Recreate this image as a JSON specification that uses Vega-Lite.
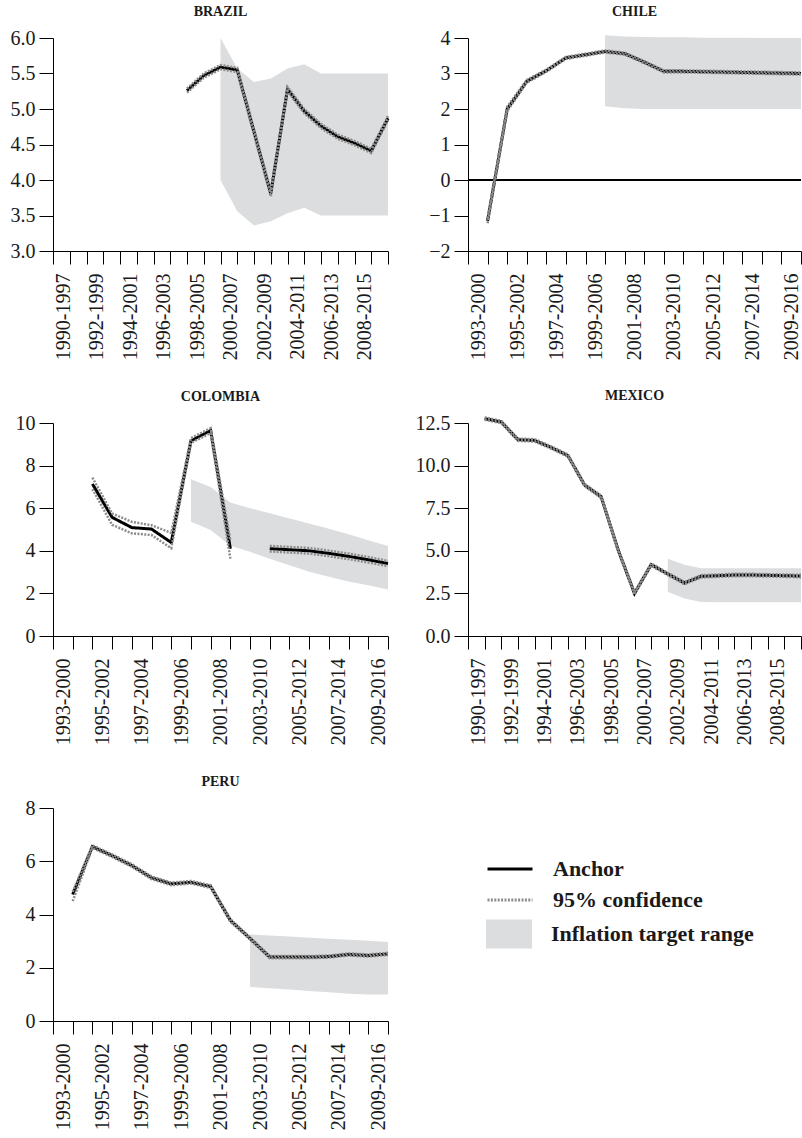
{
  "$schema": "https://vega.github.io/schema/vega-lite/v6.json",
  "padding": {"left": 3, "top": 5, "right": 0, "bottom": 0},
  "columns": 2,
  "bounds": "flush",
  "spacing": {"row": 172, "column": 80},
  "concat": [
    {
      "title": {"text": "BRAZIL"},
      "width": 335, "height": 213,
      "data": {"values": [
        {"w": "1998-2005", "a": 5.26, "lo": 5.23, "hi": 5.29},
        {"w": "1999-2006", "a": 5.47, "lo": 5.44, "hi": 5.5},
        {"w": "2000-2007", "a": 5.59, "lo": 5.56, "hi": 5.62, "tl": 4.0, "th": 6.0},
        {"w": "2001-2008", "a": 5.55, "lo": 5.52, "hi": 5.58, "tl": 3.56, "th": 5.57},
        {"w": "2002-2009", "a": 4.68, "lo": 4.64, "hi": 4.72, "tl": 3.36, "th": 5.38},
        {"w": "2003-2010", "a": 3.81, "lo": 3.77, "hi": 3.85, "tl": 3.42, "th": 5.43},
        {"w": "2004-2011", "a": 5.28, "lo": 5.25, "hi": 5.31, "tl": 3.53, "th": 5.57},
        {"w": "2005-2012", "a": 4.97, "lo": 4.94, "hi": 5.0, "tl": 3.61, "th": 5.63},
        {"w": "2006-2013", "a": 4.76, "lo": 4.73, "hi": 4.79, "tl": 3.5, "th": 5.5},
        {"w": "2007-2014", "a": 4.61, "lo": 4.58, "hi": 4.64, "tl": 3.5, "th": 5.5},
        {"w": "2008-2015", "a": 4.52, "lo": 4.49, "hi": 4.55, "tl": 3.5, "th": 5.5},
        {"w": "2009-2016", "a": 4.41, "lo": 4.38, "hi": 4.44, "tl": 3.5, "th": 5.5},
        {"w": "2010-2017", "a": 4.87, "lo": 4.84, "hi": 4.9, "tl": 3.5, "th": 5.5}
      ]},
      "encoding": {
        "x": {"field": "w", "type": "ordinal", "title": null,
          "scale": {"type": "point", "padding": 0, "domain": ["1990-1997","1991-1998","1992-1999","1993-2000","1994-2001","1995-2002","1996-2003","1997-2004","1998-2005","1999-2006","2000-2007","2001-2008","2002-2009","2003-2010","2004-2011","2005-2012","2006-2013","2007-2014","2008-2015","2009-2016","2010-2017"]},
          "axis": {"labelExpr": "(toNumber(slice(datum.value,0,4)) % 2 == 0 && datum.value != '2010-2017') ? datum.value : ''"}}
      },
      "layer": [
        {"mark": {"type": "area"},
         "encoding": {
           "y": {"field": "th", "type": "quantitative", "title": null, "scale": {"domain": [3, 6], "nice": false, "zero": false}, "axis": {"values": [3, 3.5, 4, 4.5, 5, 5.5, 6], "tickCount": 10, "format": ".1f", "labelOverlap": false}},
           "y2": {"field": "tl"},
           "fill": {"datum": "Inflation target range", "title": null, "scale": {"domain": ["Inflation target range"], "range": ["#dcdddf"]},
             "legend": {"legendY": 881, "symbolType": "M-1,-0.63H1V0.63H-1Z", "symbolSize": 2116, "symbolStrokeWidth": 0, "labelOffset": 19, "clipHeight": 30}}
         }},
        {"mark": {"type": "line", "strokeWidth": 3},
         "encoding": {
           "y": {"field": "a", "type": "quantitative", "title": null},
           "color": {"datum": "Anchor", "title": null, "scale": {"domain": ["Anchor", "95% confidence"], "range": ["#000000", "#8c8c8c"]}},
           "strokeDash": {"datum": "Anchor", "title": null, "scale": {"domain": ["Anchor", "95% confidence"], "range": [[1, 0], [2, 1.4]]}}
         }},
        {"mark": {"type": "line", "strokeWidth": 2.5},
         "encoding": {"y": {"field": "lo", "type": "quantitative", "title": null}, "color": {"datum": "95% confidence", "title": null}, "strokeDash": {"datum": "95% confidence", "title": null}}},
        {"mark": {"type": "line", "strokeWidth": 2.5},
         "encoding": {"y": {"field": "hi", "type": "quantitative", "title": null}, "color": {"datum": "95% confidence", "title": null}, "strokeDash": {"datum": "95% confidence", "title": null}}}
      ]
    },
    {
      "title": {"text": "CHILE"},
      "width": 333, "height": 213,
      "data": {"values": [
        {"w": "1994-2001", "a": -1.15, "lo": -1.22, "hi": -1.08},
        {"w": "1995-2002", "a": 2.0, "lo": 1.94, "hi": 2.06},
        {"w": "1996-2003", "a": 2.78, "lo": 2.74, "hi": 2.82},
        {"w": "1997-2004", "a": 3.08, "lo": 3.05, "hi": 3.11},
        {"w": "1998-2005", "a": 3.44, "lo": 3.41, "hi": 3.47},
        {"w": "1999-2006", "a": 3.53, "lo": 3.5, "hi": 3.56},
        {"w": "2000-2007", "a": 3.62, "lo": 3.59, "hi": 3.65, "tl": 2.08, "th": 4.08},
        {"w": "2001-2008", "a": 3.56, "lo": 3.53, "hi": 3.59, "tl": 2.02, "th": 4.04},
        {"w": "2002-2009", "a": 3.32, "lo": 3.29, "hi": 3.35, "tl": 2.0, "th": 4.03},
        {"w": "2003-2010", "a": 3.06, "lo": 3.03, "hi": 3.09, "tl": 2.0, "th": 4.02},
        {"w": "2004-2011", "a": 3.06, "lo": 3.03, "hi": 3.09, "tl": 2.0, "th": 4.02},
        {"w": "2005-2012", "a": 3.05, "lo": 3.02, "hi": 3.08, "tl": 2.0, "th": 4.01},
        {"w": "2006-2013", "a": 3.04, "lo": 3.01, "hi": 3.07, "tl": 2.0, "th": 4.01},
        {"w": "2007-2014", "a": 3.03, "lo": 3.0, "hi": 3.06, "tl": 2.0, "th": 4.01},
        {"w": "2008-2015", "a": 3.02, "lo": 2.99, "hi": 3.05, "tl": 2.0, "th": 4.0},
        {"w": "2009-2016", "a": 3.01, "lo": 2.98, "hi": 3.04, "tl": 2.0, "th": 4.0},
        {"w": "2010-2017", "a": 3.0, "lo": 2.97, "hi": 3.03, "tl": 2.0, "th": 4.0}
      ]},
      "encoding": {
        "x": {"field": "w", "type": "ordinal", "title": null,
          "scale": {"type": "point", "padding": 0, "domain": ["1993-2000","1994-2001","1995-2002","1996-2003","1997-2004","1998-2005","1999-2006","2000-2007","2001-2008","2002-2009","2003-2010","2004-2011","2005-2012","2006-2013","2007-2014","2008-2015","2009-2016","2010-2017"]},
          "axis": {"labelExpr": "(toNumber(slice(datum.value,0,4)) % 2 == 1) ? datum.value : ''"}}
      },
      "layer": [
        {"mark": {"type": "area"},
         "encoding": {
           "y": {"field": "th", "type": "quantitative", "title": null, "scale": {"domain": [-2, 4], "nice": false, "zero": false}, "axis": {"values": [-2, -1, 0, 1, 2, 3, 4], "tickCount": 10, "format": "d", "labelOverlap": false}},
           "y2": {"field": "tl"},
           "fill": {"datum": "Inflation target range", "title": null,
             "legend": {"legendY": 881, "symbolType": "M-1,-0.63H1V0.63H-1Z", "symbolSize": 2116, "symbolStrokeWidth": 0, "labelOffset": 19, "clipHeight": 30}}
         }},
        {"mark": {"type": "rule", "color": "#000000", "strokeWidth": 1},
         "encoding": {"x": {"datum": "1993-2000", "type": "ordinal"}, "x2": {"datum": "2010-2017"}, "y": {"datum": 0, "type": "quantitative"}}},
        {"mark": {"type": "line", "strokeWidth": 3},
         "encoding": {"y": {"field": "a", "type": "quantitative", "title": null}, "color": {"datum": "Anchor", "title": null}, "strokeDash": {"datum": "Anchor", "title": null}}},
        {"mark": {"type": "line", "strokeWidth": 2.5},
         "encoding": {"y": {"field": "lo", "type": "quantitative", "title": null}, "color": {"datum": "95% confidence", "title": null}, "strokeDash": {"datum": "95% confidence", "title": null}}},
        {"mark": {"type": "line", "strokeWidth": 2.5},
         "encoding": {"y": {"field": "hi", "type": "quantitative", "title": null}, "color": {"datum": "95% confidence", "title": null}, "strokeDash": {"datum": "95% confidence", "title": null}}}
      ]
    },
    {
      "title": {"text": "COLOMBIA"},
      "width": 335, "height": 213,
      "data": {"values": [
        {"w": "1995-2002", "s": 1, "a": 7.14, "lo": 6.9, "hi": 7.44},
        {"w": "1996-2003", "s": 1, "a": 5.57, "lo": 5.22, "hi": 5.75},
        {"w": "1997-2004", "s": 1, "a": 5.09, "lo": 4.82, "hi": 5.36},
        {"w": "1998-2005", "s": 1, "a": 5.02, "lo": 4.74, "hi": 5.2},
        {"w": "1999-2006", "s": 1, "a": 4.39, "lo": 4.12, "hi": 4.84},
        {"w": "2000-2007", "s": 1, "a": 9.16, "lo": 9.06, "hi": 9.29, "tl": 5.36, "th": 7.36},
        {"w": "2001-2008", "s": 1, "a": 9.65, "lo": 9.53, "hi": 9.76, "tl": 4.98, "th": 7.0},
        {"w": "2002-2009", "s": 1, "a": 4.1, "lo": 3.63, "hi": 4.5, "tl": 4.24, "th": 6.27},
        {"w": "2003-2010", "s": 2, "tl": 3.95, "th": 6.0},
        {"w": "2004-2011", "s": 2, "a": 4.1, "lo": 3.97, "hi": 4.23, "tl": 3.63, "th": 5.76},
        {"w": "2005-2012", "s": 2, "a": 4.05, "lo": 3.92, "hi": 4.18, "tl": 3.32, "th": 5.52},
        {"w": "2006-2013", "s": 2, "a": 4.0, "lo": 3.87, "hi": 4.13, "tl": 3.02, "th": 5.28},
        {"w": "2007-2014", "s": 2, "a": 3.88, "lo": 3.75, "hi": 4.01, "tl": 2.78, "th": 5.03},
        {"w": "2008-2015", "s": 2, "a": 3.74, "lo": 3.61, "hi": 3.87, "tl": 2.56, "th": 4.78},
        {"w": "2009-2016", "s": 2, "a": 3.58, "lo": 3.45, "hi": 3.71, "tl": 2.38, "th": 4.5},
        {"w": "2010-2017", "s": 2, "a": 3.4, "lo": 3.28, "hi": 3.52, "tl": 2.18, "th": 4.23}
      ]},
      "encoding": {
        "x": {"field": "w", "type": "ordinal", "title": null,
          "scale": {"type": "point", "padding": 0, "domain": ["1993-2000","1994-2001","1995-2002","1996-2003","1997-2004","1998-2005","1999-2006","2000-2007","2001-2008","2002-2009","2003-2010","2004-2011","2005-2012","2006-2013","2007-2014","2008-2015","2009-2016","2010-2017"]},
          "axis": {"labelExpr": "(toNumber(slice(datum.value,0,4)) % 2 == 1) ? datum.value : ''"}}
      },
      "layer": [
        {"mark": {"type": "area"},
         "encoding": {
           "y": {"field": "th", "type": "quantitative", "title": null, "scale": {"domain": [0, 10], "nice": false, "zero": false}, "axis": {"values": [0, 2, 4, 6, 8, 10], "tickCount": 10, "format": "d", "labelOverlap": false}},
           "y2": {"field": "tl"},
           "fill": {"datum": "Inflation target range", "title": null,
             "legend": {"legendY": 881, "symbolType": "M-1,-0.63H1V0.63H-1Z", "symbolSize": 2116, "symbolStrokeWidth": 0, "labelOffset": 19, "clipHeight": 30}}
         }},
        {"mark": {"type": "line", "strokeWidth": 3},
         "encoding": {"y": {"field": "a", "type": "quantitative", "title": null}, "detail": {"field": "s"}, "color": {"datum": "Anchor", "title": null}, "strokeDash": {"datum": "Anchor", "title": null}}},
        {"mark": {"type": "line", "strokeWidth": 2.5},
         "encoding": {"y": {"field": "lo", "type": "quantitative", "title": null}, "detail": {"field": "s"}, "color": {"datum": "95% confidence", "title": null}, "strokeDash": {"datum": "95% confidence", "title": null}}},
        {"mark": {"type": "line", "strokeWidth": 2.5},
         "encoding": {"y": {"field": "hi", "type": "quantitative", "title": null}, "detail": {"field": "s"}, "color": {"datum": "95% confidence", "title": null}, "strokeDash": {"datum": "95% confidence", "title": null}}}
      ]
    },
    {
      "title": {"text": "MEXICO"},
      "width": 333, "height": 213,
      "data": {"values": [
        {"w": "1991-1998", "a": 12.76, "lo": 12.69, "hi": 12.83},
        {"w": "1992-1999", "a": 12.56, "lo": 12.49, "hi": 12.63},
        {"w": "1993-2000", "a": 11.52, "lo": 11.45, "hi": 11.59},
        {"w": "1994-2001", "a": 11.48, "lo": 11.41, "hi": 11.55},
        {"w": "1995-2002", "a": 11.06, "lo": 10.99, "hi": 11.13},
        {"w": "1996-2003", "a": 10.59, "lo": 10.52, "hi": 10.66},
        {"w": "1997-2004", "a": 8.86, "lo": 8.79, "hi": 8.93},
        {"w": "1998-2005", "a": 8.17, "lo": 8.1, "hi": 8.24},
        {"w": "1999-2006", "a": 5.1, "lo": 5.03, "hi": 5.17},
        {"w": "2000-2007", "a": 2.5, "lo": 2.43, "hi": 2.57},
        {"w": "2001-2008", "a": 4.19, "lo": 4.12, "hi": 4.26},
        {"w": "2002-2009", "a": 3.64, "lo": 3.57, "hi": 3.71, "tl": 2.6, "th": 4.53},
        {"w": "2003-2010", "a": 3.11, "lo": 3.04, "hi": 3.18, "tl": 2.2, "th": 4.18},
        {"w": "2004-2011", "a": 3.5, "lo": 3.43, "hi": 3.57, "tl": 2.0, "th": 3.98},
        {"w": "2005-2012", "a": 3.54, "lo": 3.47, "hi": 3.61, "tl": 1.98, "th": 3.97},
        {"w": "2006-2013", "a": 3.58, "lo": 3.51, "hi": 3.65, "tl": 1.98, "th": 3.97},
        {"w": "2007-2014", "a": 3.58, "lo": 3.51, "hi": 3.65, "tl": 1.98, "th": 3.97},
        {"w": "2008-2015", "a": 3.56, "lo": 3.49, "hi": 3.63, "tl": 1.98, "th": 3.97},
        {"w": "2009-2016", "a": 3.54, "lo": 3.47, "hi": 3.61, "tl": 1.98, "th": 3.97},
        {"w": "2010-2017", "a": 3.52, "lo": 3.45, "hi": 3.59, "tl": 1.98, "th": 3.97}
      ]},
      "encoding": {
        "x": {"field": "w", "type": "ordinal", "title": null,
          "scale": {"type": "point", "padding": 0, "domain": ["1990-1997","1991-1998","1992-1999","1993-2000","1994-2001","1995-2002","1996-2003","1997-2004","1998-2005","1999-2006","2000-2007","2001-2008","2002-2009","2003-2010","2004-2011","2005-2012","2006-2013","2007-2014","2008-2015","2009-2016","2010-2017"]},
          "axis": {"labelExpr": "(toNumber(slice(datum.value,0,4)) % 2 == 0 && datum.value != '2010-2017') ? datum.value : ''"}}
      },
      "layer": [
        {"mark": {"type": "area"},
         "encoding": {
           "y": {"field": "th", "type": "quantitative", "title": null, "scale": {"domain": [0, 12.5], "nice": false, "zero": false}, "axis": {"values": [0, 2.5, 5, 7.5, 10, 12.5], "tickCount": 10, "format": ".1f", "labelOverlap": false}},
           "y2": {"field": "tl"},
           "fill": {"datum": "Inflation target range", "title": null,
             "legend": {"legendY": 881, "symbolType": "M-1,-0.63H1V0.63H-1Z", "symbolSize": 2116, "symbolStrokeWidth": 0, "labelOffset": 19, "clipHeight": 30}}
         }},
        {"mark": {"type": "line", "strokeWidth": 3},
         "encoding": {"y": {"field": "a", "type": "quantitative", "title": null}, "color": {"datum": "Anchor", "title": null}, "strokeDash": {"datum": "Anchor", "title": null}}},
        {"mark": {"type": "line", "strokeWidth": 2.5},
         "encoding": {"y": {"field": "lo", "type": "quantitative", "title": null}, "color": {"datum": "95% confidence", "title": null}, "strokeDash": {"datum": "95% confidence", "title": null}}},
        {"mark": {"type": "line", "strokeWidth": 2.5},
         "encoding": {"y": {"field": "hi", "type": "quantitative", "title": null}, "color": {"datum": "95% confidence", "title": null}, "strokeDash": {"datum": "95% confidence", "title": null}}}
      ]
    },
    {
      "title": {"text": "PERU"},
      "width": 335, "height": 213,
      "data": {"values": [
        {"w": "1994-2001", "a": 4.75, "lo": 4.5, "hi": 4.85},
        {"w": "1995-2002", "a": 6.55, "lo": 6.5, "hi": 6.6},
        {"w": "1996-2003", "a": 6.21, "lo": 6.16, "hi": 6.26},
        {"w": "1997-2004", "a": 5.84, "lo": 5.79, "hi": 5.89},
        {"w": "1998-2005", "a": 5.38, "lo": 5.33, "hi": 5.43},
        {"w": "1999-2006", "a": 5.15, "lo": 5.1, "hi": 5.2},
        {"w": "2000-2007", "a": 5.21, "lo": 5.16, "hi": 5.26},
        {"w": "2001-2008", "a": 5.05, "lo": 5.0, "hi": 5.1},
        {"w": "2002-2009", "a": 3.78, "lo": 3.73, "hi": 3.83},
        {"w": "2003-2010", "a": 3.1, "lo": 3.06, "hi": 3.14, "tl": 1.28, "th": 3.25},
        {"w": "2004-2011", "a": 2.4, "lo": 2.36, "hi": 2.44, "tl": 1.23, "th": 3.21},
        {"w": "2005-2012", "a": 2.4, "lo": 2.36, "hi": 2.44, "tl": 1.18, "th": 3.17},
        {"w": "2006-2013", "a": 2.4, "lo": 2.36, "hi": 2.44, "tl": 1.13, "th": 3.13},
        {"w": "2007-2014", "a": 2.42, "lo": 2.38, "hi": 2.46, "tl": 1.08, "th": 3.09},
        {"w": "2008-2015", "a": 2.5, "lo": 2.46, "hi": 2.54, "tl": 1.02, "th": 3.05},
        {"w": "2009-2016", "a": 2.46, "lo": 2.42, "hi": 2.5, "tl": 1.0, "th": 3.01},
        {"w": "2010-2017", "a": 2.52, "lo": 2.48, "hi": 2.56, "tl": 1.0, "th": 2.97}
      ]},
      "encoding": {
        "x": {"field": "w", "type": "ordinal", "title": null,
          "scale": {"type": "point", "padding": 0, "domain": ["1993-2000","1994-2001","1995-2002","1996-2003","1997-2004","1998-2005","1999-2006","2000-2007","2001-2008","2002-2009","2003-2010","2004-2011","2005-2012","2006-2013","2007-2014","2008-2015","2009-2016","2010-2017"]},
          "axis": {"labelExpr": "(toNumber(slice(datum.value,0,4)) % 2 == 1) ? datum.value : ''"}}
      },
      "layer": [
        {"mark": {"type": "area"},
         "encoding": {
           "y": {"field": "th", "type": "quantitative", "title": null, "scale": {"domain": [0, 8], "nice": false, "zero": false}, "axis": {"values": [0, 2, 4, 6, 8], "tickCount": 10, "format": "d", "labelOverlap": false}},
           "y2": {"field": "tl"},
           "fill": {"datum": "Inflation target range", "title": null,
             "legend": {"legendY": 881, "symbolType": "M-1,-0.63H1V0.63H-1Z", "symbolSize": 2116, "symbolStrokeWidth": 0, "labelOffset": 19, "clipHeight": 30}}
         }},
        {"mark": {"type": "line", "strokeWidth": 3},
         "encoding": {"y": {"field": "a", "type": "quantitative", "title": null}, "color": {"datum": "Anchor", "title": null}, "strokeDash": {"datum": "Anchor", "title": null}}},
        {"mark": {"type": "line", "strokeWidth": 2.5},
         "encoding": {"y": {"field": "lo", "type": "quantitative", "title": null}, "color": {"datum": "95% confidence", "title": null}, "strokeDash": {"datum": "95% confidence", "title": null}}},
        {"mark": {"type": "line", "strokeWidth": 2.5},
         "encoding": {"y": {"field": "hi", "type": "quantitative", "title": null}, "color": {"datum": "95% confidence", "title": null}, "strokeDash": {"datum": "95% confidence", "title": null}}}
      ]
    }
  ],
  "config": {
    "view": {"stroke": null},
    "font": "Liberation Serif",
    "axis": {"domainColor": "#000000", "tickColor": "#000000", "labelColor": "#1a1a1a", "labelFont": "Liberation Serif", "labelFontSize": 20, "grid": false, "domainWidth": 1, "tickWidth": 1, "labelOverlap": false},
    "axisX": {"tickSize": 13, "labelAngle": -90, "labelAlign": "right", "labelBaseline": "top", "labelPadding": 9},
    "axisY": {"tickSize": 14, "labelPadding": 4, "minExtent": 50},
    "title": {"font": "Liberation Serif", "fontSize": 14, "fontWeight": "bold", "color": "#1a1a1a", "anchor": "middle", "frame": "group", "baseline": "alphabetic", "offset": 9},
    "legend": {"orient": "none", "legendX": 433, "legendY": 819, "padding": 0, "labelFont": "Liberation Serif", "labelFontSize": 22, "labelFontWeight": "bold", "labelColor": "#1a1a1a", "labelLimit": 0, "symbolType": "stroke", "symbolSize": 2025, "symbolStrokeWidth": 3, "labelOffset": 19, "clipHeight": 24, "rowPadding": 7}
  }
}
